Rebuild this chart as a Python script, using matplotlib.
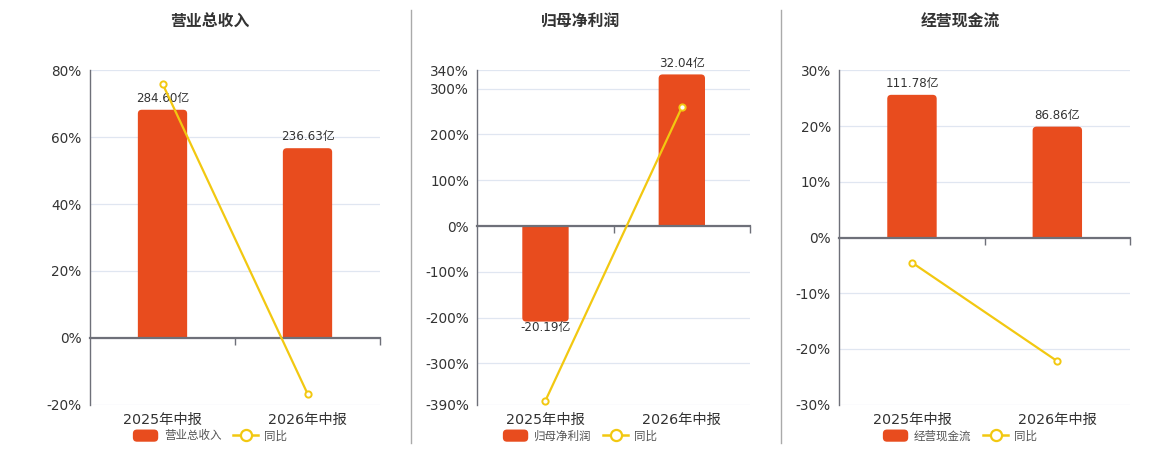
import matplotlib
matplotlib.use("Agg")
import matplotlib.pyplot as plt
from matplotlib.patches import FancyBboxPatch, Rectangle, PathPatch
from matplotlib.path import Path
from matplotlib.lines import Line2D
from matplotlib.legend_handler import HandlerPatch
from matplotlib.transforms import blended_transform_factory

plt.rcParams['font.family'] = ['DejaVu Sans', 'Noto Sans CJK SC']

# ---------------- data ----------------
categories = ['2025年中报', '2026年中报']
titles = ['营业总收入', '归母净利润', '经营现金流']
yoy_name = '同比'
unit = '亿'

revenue = [284.60, 236.63]
revenue_yoy = [76.0, -16.7]
profit = [-20.19, 32.04]
profit_yoy = [-381.0, 259.0]
cashflow = [111.78, 86.86]
cashflow_yoy = [-4.5, -22.2]

bar_series = [revenue, profit, cashflow]
yoy_series = [revenue_yoy, profit_yoy, cashflow_yoy]

yticks_list = [[-20, 0, 20, 40, 60, 80],
               [-390, -300, -200, -100, 0, 100, 200, 300, 340],
               [-30, -20, -10, 0, 10, 20, 30]]

# ---------------- style / layout ----------------
W, H = 1160, 450
BAR_C = '#e84c1e'
LINE_C = '#f2c811'
GRID_C = '#e0e6f1'
AXIS_C = '#6e7079'
TEXT_C = '#333333'
LEG_C = '#555555'
# bar axis scale (亿 per percent unit) for each panel
bar_scale = [284.60 / 68.2, 32.04 / 331.0, 111.78 / 25.6]
panel_x = [(90, 380), (477.3, 750), (839.3, 1130)]
plot_top, plot_bot = 70.3, 404.7
title_x = [210, 581, 960]
legend_x = [210, 580, 960]
sep_x = [410.5, 781]

fig = plt.figure(figsize=(W / 100, H / 100), dpi=100)
fig.patch.set_facecolor('white')


def fx(px):
    return px / W


def fy(py):
    return 1 - py / H


class RoundHandler(HandlerPatch):
    def create_artists(self, legend, orig_handle, xdescent, ydescent,
                       width, height, fontsize, trans):
        p = FancyBboxPatch((-xdescent, -ydescent), width, height,
                           boxstyle='round,pad=0,rounding_size=3',
                           fc=orig_handle.get_facecolor(), ec='none',
                           transform=trans)
        return [p]


def rounded_bar_path(a, b, base, top, rx, ry):
    s = 1 if top >= base else -1
    verts = [(a, base), (a, top - s * ry), (a, top), (a + rx, top),
             (b - rx, top), (b, top), (b, top - s * ry), (b, base), (a, base)]
    codes = [Path.MOVETO, Path.LINETO, Path.CURVE3, Path.CURVE3,
             Path.LINETO, Path.CURVE3, Path.CURVE3, Path.LINETO, Path.CLOSEPOLY]
    return Path(verts, codes)


for i in range(3):
    x0, x1 = panel_x[i]
    rect = [fx(x0), fy(plot_bot), fx(x1) - fx(x0), fy(plot_top) - fy(plot_bot)]
    ticks = yticks_list[i]
    lo, hi = ticks[0], ticks[-1]
    xs = list(range(len(categories)))

    # base axis: grid + y labels
    ax = fig.add_axes(rect)
    ax.set_xlim(-0.5, len(categories) - 0.5)
    ax.set_ylim(lo, hi)
    ax.set_yticks(ticks)
    ax.set_yticklabels([f'{t}%' for t in ticks])
    ax.tick_params(axis='y', length=0, pad=6, labelsize=9.8, labelcolor=TEXT_C)
    for s in ['top', 'right', 'bottom']:
        ax.spines[s].set_visible(False)
    ax.spines['left'].set_color(AXIS_C)
    ax.spines['left'].set_linewidth(1.0)
    for t in ticks:
        ax.axhline(t, color=GRID_C, lw=0.9, zorder=0)

    # bar axis
    axb = ax.twinx()
    k = bar_scale[i]
    axb.set_ylim(lo * k, hi * k)
    axb.axis('off')
    vals = bar_series[i]
    bars = axb.bar(xs, vals, width=0.34, color=BAR_C)
    p0 = axb.transData.transform((0, 0))
    p1 = axb.transData.transform((1, 1))
    sxp, syp = p1[0] - p0[0], p1[1] - p0[1]
    r = 4.0
    rx, ry = r / sxp, r / syp
    for b in bars:
        bx, bw, bh = b.get_x(), b.get_width(), b.get_height()
        by = b.get_y()
        b.set_visible(False)
        path = rounded_bar_path(bx, bx + bw, by, by + bh, rx, ry)
        axb.add_patch(PathPatch(path, fc=BAR_C, ec='none', lw=0))
    for xv, v in zip(xs, vals):
        if v >= 0:
            axb.annotate(f'{v:.2f}{unit}', (xv, v), xytext=(0, 3.5),
                         textcoords='offset points', ha='center', va='bottom',
                         fontsize=8.6, color=TEXT_C)
        else:
            axb.annotate(f'{v:.2f}{unit}', (xv, v), xytext=(0, 0.5),
                         textcoords='offset points', ha='center', va='top',
                         fontsize=8.6, color=TEXT_C)

    # top axis: zero line + yoy line
    axl = ax.twinx()
    axl.set_ylim(lo, hi)
    axl.set_xlim(-0.5, len(categories) - 0.5)
    axl.set_yticks([])
    for s in ['top', 'right', 'left']:
        axl.spines[s].set_visible(False)
    axl.xaxis.set_visible(True)
    axl.spines['bottom'].set_position(('data', 0))
    axl.spines['bottom'].set_color(AXIS_C)
    axl.spines['bottom'].set_linewidth(1.6)
    axl.set_xticks([x + 0.5 for x in xs])
    axl.set_xticklabels([])
    axl.tick_params(axis='x', which='both', bottom=True, top=False,
                    direction='out', length=5, width=1, color=AXIS_C)
    ax.tick_params(axis='x', which='both', bottom=False, top=False,
                   labelbottom=False)
    axl.plot(xs, yoy_series[i], color=LINE_C, lw=1.6, marker='o', ms=4.5,
             mfc='white', mec=LINE_C, mew=1.4, zorder=5, clip_on=False)

    tr = blended_transform_factory(ax.transData, ax.transAxes)
    for xv, c in zip(xs, categories):
        ax.text(xv, -15.5 / (plot_bot - plot_top), c, transform=tr,
                ha='center', va='center', fontsize=10.3, color=TEXT_C)

    # title
    fig.text(fx(title_x[i]), fy(22), titles[i], ha='center', va='center',
             fontsize=11.4, fontweight='bold', color=TEXT_C)

    # legend
    bar_handle = Rectangle((0, 0), 1, 1, facecolor=BAR_C, edgecolor='none',
                           label=titles[i])
    line_handle = Line2D([0], [0], color=LINE_C, lw=1.8, marker='o', ms=8,
                         mfc='white', mec=LINE_C, mew=1.6, label=yoy_name)
    fig.legend(handles=[bar_handle, line_handle], loc='center', ncol=2,
               frameon=False, bbox_to_anchor=(fx(legend_x[i]), fy(436)),
               fontsize=8.3, labelcolor=LEG_C, handlelength=2.2,
               handleheight=1.25, handletextpad=0.5, columnspacing=1.0,
               borderpad=0, handler_map={Rectangle: RoundHandler()})

for sx in sep_x:
    fig.add_artist(Line2D([fx(sx), fx(sx)], [fy(10), fy(443)], color='#aaaaaa', lw=1))

fig.savefig('out.png', dpi=100, facecolor='white')
